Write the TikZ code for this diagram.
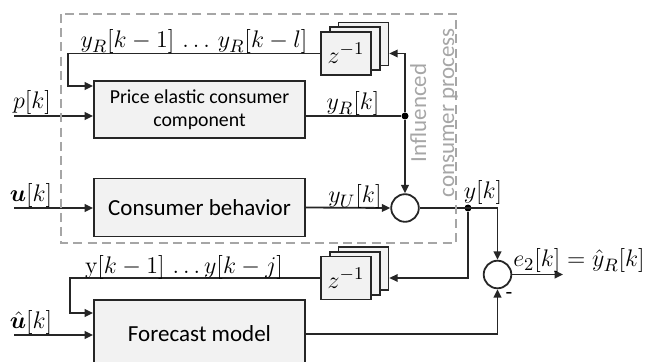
\documentclass[tikz,border=0pt]{standalone}
\usepackage{amsmath}
\usepackage{bm}
\usepackage[no-math]{fontspec}
\setmainfont{Carlito}
\usetikzlibrary{arrows.meta}
\definecolor{boxfill}{HTML}{F2F2F2}
\definecolor{regiongray}{HTML}{A6A6A6}
\begin{document}
\begin{tikzpicture}[x=0.5pt,y=-0.5pt,
  blk/.style={draw=black!85, fill=boxfill, line width=0.9pt, inner sep=0pt, align=center,
    minimum width=105.5pt, font=\fontsize{11.5}{13.5}\selectfont},
  zblk/.style={draw=black!85, fill=boxfill, line width=0.9pt, inner sep=0pt,
    minimum width=25pt, minimum height=21.5pt, font=\fontsize{12.5}{14}\selectfont},
  sumc/.style={draw=black!85, circle, line width=0.9pt, minimum size=13.8pt, inner sep=0pt, fill=white},
  lbl/.style={inner sep=0pt, font=\fontsize{12.5}{14}\selectfont},
  dotc/.style={circle, fill=black, minimum size=3.5pt, inner sep=0pt},
  ln/.style={line width=0.9pt, draw=black!85},
  arr/.style={ln, -{Triangle[length=4.2pt,width=3.8pt]}},
  region/.style={draw=regiongray, line width=1.4pt, dash pattern=on 4.5pt off 2.6pt},
]
\clip (0,0) rectangle (657,362);
\useasboundingbox (0,0) rectangle (657,362);

% main blocks
\node[blk, minimum height=28.5pt, font=\fontsize{9.9}{11.5}\selectfont] (price) at (199.5,109.5) {Price elastic consumer\\component};
\node[blk, minimum height=29pt] (cons) at (199.5,207.5) {Consumer behavior};
\node[blk, minimum height=34pt] (fc) at (199.5,334) {Forecast model};

% delay stacks
\node[zblk] (zb1) at (363.4,44.1) {};
\node[zblk] (zm1) at (354.7,48.8) {};
\node[zblk] (z1) at (346,53.5) {$z^{-1}$};
\node[zblk] (zb2) at (363.4,268.6) {};
\node[zblk] (zm2) at (354.7,273.3) {};
\node[zblk] (z2) at (346,278) {$z^{-1}$};

% summing points
\node[sumc] (sum1) at (405,208) {};
\node[sumc] (sum2) at (497.5,274.5) {};

% coordinates
\coordinate (pin) at (14,116);
\coordinate (uin) at (14,208);
\coordinate (uhin) at (14,335);
\coordinate (fb1) at (68,86);
\coordinate (fb2) at (70,313);
\coordinate (yrout) at (305,116);
\coordinate (out) at (563,274.5);

% dots
\node[dotc] (dot1) at (405,116) {};
\node[dotc] (dot2) at (468,208) {};

% connectors
\draw[arr] (pin) -- (pin -| price.west);
\draw[arr] (uin) -- (uin -| cons.west);
\draw[arr] (uhin) -- (uhin -| fc.west);
\draw[arr] (z1.west) -| (fb1) -- (fb1 -| price.west);
\draw[ln] (yrout) -- (dot1);
\draw[arr] (dot1) |- (zb1.east |- z1.center);
\draw[arr] (dot1) -- (sum1.north);
\draw[arr] (cons.east) -- (sum1.west);
\draw[arr] (sum1.east) -| (sum2.north);
\draw[arr] (dot2) |- (zb2.east |- z2.center);
\draw[arr] (z2.west) -| (fb2) -- (fb2 -| fc.west);
\draw[arr] (fc.east) -| (sum2.south);
\draw[arr] (sum2.east) -- (out);

% labels
\node[lbl] (lp) at (32,103) {$p[k]$};
\node[lbl] (lu) at (31,196) {$\bm{u}[k]$};
\node[lbl] (luh) at (31,323) {$\hat{\bm{u}}[k]$};
\node[lbl] (lfb1) at (194,42) {$y_R[k-1]\,\ldots\,y_R[k-l]$};
\node[lbl] (lfb2) at (184,268) {$\mathrm{y}[k-1]\,\ldots y[k-j]$};
\node[lbl] (lyr) at (353,104) {$y_R[k]$};
\node[lbl] (lyu) at (355,197) {$y_U[k]$};
\node[lbl] (ly) at (483,193) {$y[k]$};
\node[lbl] (le) at (579,261) {$e_2[k]=\hat{y}_R[k]$};
\node[lbl, font=\fontsize{11}{13}\selectfont] (lminus) at (509,296) {-};

% region
\draw[region] (61,14) rectangle (456,243);
\node[inner sep=0pt, rotate=90, align=center, text=regiongray, font=\fontsize{11.5}{14}\selectfont] (lreg) at (434,113) {Influenced\\consumer process};
\end{tikzpicture}
\end{document}
